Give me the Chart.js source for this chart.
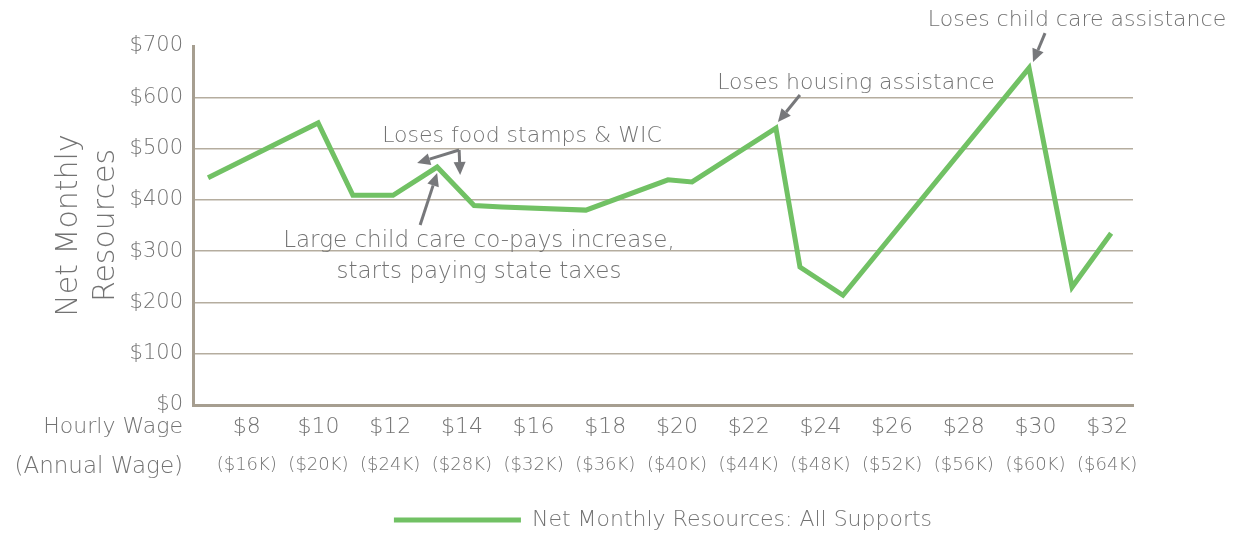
<!DOCTYPE html>
<html>
<head>
<meta charset="utf-8">
<script src="https://cdn.jsdelivr.net/npm/chart.js@4.4.1/dist/chart.umd.min.js"></script>
<style>
    html, body { margin: 0; padding: 0; background: #ffffff; }
    #wrap { width: 1234px; height: 533px; position: relative; }
</style>
</head>
<body>
<div id="wrap"><canvas id="resourcesChart"></canvas></div>
<script>
// hourly wage ($) at each plotted point, and net monthly resources ($)
const hourlyWage = [6.92, 9.99, 10.96, 12.08, 13.31, 14.34, 15.12, 17.46, 19.75, 20.42, 22.76, 23.43, 24.63, 29.82, 31.02, 32.11];
const netResources = [443, 550, 409, 409, 464, 389, 386, 380, 439, 435, 540, 269, 214, 657, 230, 335];

const hourlyTicks = [8, 10, 12, 14, 16, 18, 20, 22, 24, 26, 28, 30, 32];
const annualLabels = ['($16K)', '($20K)', '($24K)', '($28K)', '($32K)', '($36K)', '($40K)', '($44K)', '($48K)', '($52K)', '($56K)', '($60K)', '($64K)'];
const yTicks = [0, 100, 200, 300, 400, 500, 600, 700];

const seriesLabel = 'Net Monthly Resources: All Supports';

const FONT = "'DejaVu Sans', sans-serif";
const W = 200;
const TEXT_GRAY = '#737373';
const ARROW_GRAY = '#77787b';
const AXIS_COLOR = '#a69e90';
const GRID_COLOR = '#b5ad9f';
const LINE_GREEN = '#71c164';

// callouts: text lines, anchor point index, arrows relative to that point
const callouts = [
    { lines: ['Loses food stamps & WIC'], size: 22, cx: 522, cy: 136, point: 4,
      arrows: [[22, -17, -20, -4], [22, -17, 23, 8]] },
    { lines: ['Large child care co-pays increase,', 'starts paying state taxes'], size: 23, cx: 479, cy: 241, point: 4,
      arrows: [[-17, 58, 0, 6]] },
    { lines: ['Loses housing assistance'], size: 22, cx: 856, cy: 83, point: 10,
      arrows: [[24, -33, 2, -6]] },
    { lines: ['Loses child care assistance'], size: 22, cx: 1077, cy: 20, point: 13,
      arrows: [[16, -35, 4, -6]] }
];

function drawArrow(ctx, x1, y1, x2, y2) {
    const ang = Math.atan2(y2 - y1, x2 - x1);
    const headLen = 13, headW = 6;
    const bx = x2 - headLen * Math.cos(ang);
    const by = y2 - headLen * Math.sin(ang);
    ctx.beginPath();
    ctx.moveTo(x1, y1);
    ctx.lineTo(bx, by);
    ctx.stroke();
    ctx.beginPath();
    ctx.moveTo(x2, y2);
    ctx.lineTo(bx + headW * Math.sin(ang), by - headW * Math.cos(ang));
    ctx.lineTo(bx - headW * Math.sin(ang), by + headW * Math.cos(ang));
    ctx.closePath();
    ctx.fill();
}

const calloutPlugin = {
    id: 'callouts',
    afterDatasetsDraw(chart) {
        const ctx = chart.ctx;
        const meta = chart.getDatasetMeta(0);
        ctx.save();
        ctx.textAlign = 'center';
        ctx.textBaseline = 'middle';
        callouts.forEach(c => {
            ctx.font = W + ' ' + c.size + 'px ' + FONT;
            ctx.fillStyle = TEXT_GRAY;
            c.lines.forEach((line, i) => ctx.fillText(line, c.cx, c.cy + i * 31));
            const p = meta.data[c.point];
            ctx.strokeStyle = ARROW_GRAY;
            ctx.fillStyle = ARROW_GRAY;
            ctx.lineWidth = 3;
            c.arrows.forEach(a => drawArrow(ctx, p.x + a[0], p.y + a[1], p.x + a[2], p.y + a[3]));
        });
        // row captions left of the wage axes
        ctx.fillStyle = TEXT_GRAY;
        ctx.textAlign = 'right';
        ctx.font = W + ' 22px ' + FONT;
        ctx.fillText('Hourly Wage', 183, 427);
        ctx.font = W + ' 23px ' + FONT;
        ctx.fillText('(Annual Wage)', 183, 467);
        ctx.restore();
    }
};

const ctx = document.getElementById('resourcesChart').getContext('2d');
new Chart(ctx, {
    type: 'line',
    data: {
        datasets: [{
            label: seriesLabel,
            data: hourlyWage.map((w, i) => ({ x: w, y: netResources[i] })),
            borderColor: LINE_GREEN,
            backgroundColor: LINE_GREEN,
            borderWidth: 5,
            pointRadius: 0,
            tension: 0,
            borderJoinStyle: 'miter'
        }]
    },
    options: {
        responsive: true,
        maintainAspectRatio: false,
        animation: false,
        layout: { padding: { top: 46, right: 101, left: 0, bottom: -8 } },
        scales: {
            x: {
                type: 'linear',
                min: 6.5,
                max: 32.72,
                afterBuildTicks: scale => { scale.ticks = hourlyTicks.map(v => ({ value: v })); },
                afterFit: scale => { scale.height = 36; },
                grid: { display: false, drawTicks: false },
                border: { color: AXIS_COLOR, width: 3 },
                ticks: {
                    autoSkip: false, maxRotation: 0, padding: 9,
                    color: TEXT_GRAY,
                    font: { family: FONT, size: 22, weight: W },
                    callback: v => '$' + v
                }
            },
            x2: {
                type: 'linear',
                position: 'bottom',
                min: 6.5,
                max: 32.72,
                afterBuildTicks: scale => { scale.ticks = hourlyTicks.map(v => ({ value: v })); },
                afterFit: scale => { scale.height = 64; },
                grid: { display: false, drawTicks: false },
                border: { display: false },
                ticks: {
                    autoSkip: false, maxRotation: 0, padding: 14,
                    color: TEXT_GRAY,
                    font: { family: FONT, size: 18, weight: W },
                    callback: (v, i) => annualLabels[i]
                }
            },
            y: {
                min: 0,
                max: 700,
                afterBuildTicks: scale => { scale.ticks = yTicks.map(v => ({ value: v })); },
                afterFit: scale => { scale.width = 193; },
                grid: {
                    drawTicks: false,
                    color: c => (c.tick && c.tick.value === 700) ? 'rgba(0,0,0,0)' : GRID_COLOR,
                    lineWidth: 1.5
                },
                border: { color: AXIS_COLOR, width: 3 },
                ticks: {
                    padding: 10,
                    color: TEXT_GRAY,
                    font: { family: FONT, size: 21, weight: W },
                    callback: v => '$' + v
                },
                title: {
                    display: true,
                    text: ['Net Monthly', 'Resources'],
                    color: TEXT_GRAY,
                    font: { family: FONT, size: 30, weight: W, lineHeight: 1.25 },
                    padding: { top: 50, bottom: 0 }
                }
            }
        },
        plugins: {
            legend: {
                position: 'bottom',
                fullSize: false,
                labels: {
                    usePointStyle: true,
                    pointStyle: 'line',
                    pointStyleWidth: 127,
                    boxWidth: 173,
                    padding: 4,
                    color: TEXT_GRAY,
                    font: { family: FONT, size: 22, weight: W }
                }
            },
            tooltip: { enabled: false }
        }
    },
    plugins: [calloutPlugin]
});
</script>
</body>
</html>
